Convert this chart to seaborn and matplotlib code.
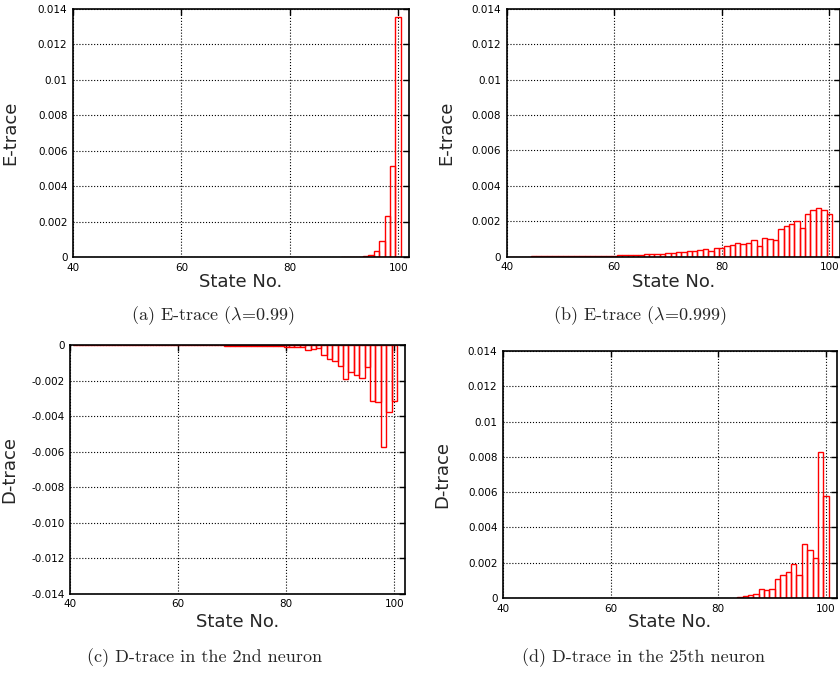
import matplotlib
matplotlib.use('Agg')
import matplotlib.pyplot as plt
import seaborn as sns

# (a) E-trace, lambda = 0.99
states_a = [90, 91, 92, 93, 94, 95, 96, 97, 98, 99, 100]
etrace_a = [0.0, 0.00001, 0.00001, 0.00002, 0.00005, 0.00013, 0.00034,
            0.00092, 0.00233, 0.00512, 0.01353]

# (b) E-trace, lambda = 0.999  (states 41..100)
states_b = list(range(41, 101))
etrace_b = [0.00001, 0.00001, 0.00001, 0.00001, 0.00002, 0.00002, 0.00002, 0.00002, 0.00003, 0.00003,
            0.00003, 0.00003, 0.00004, 0.00004, 0.00004, 0.00005, 0.00005, 0.00005, 0.00006, 0.00006,
            0.00007, 0.00008, 0.00009, 0.00010, 0.00011, 0.00013, 0.00013, 0.00015, 0.00017, 0.00021,
            0.00021, 0.00024, 0.00026, 0.00032, 0.00030, 0.00037, 0.00041, 0.00034, 0.00050, 0.00052,
            0.00062, 0.00067, 0.00077, 0.00073, 0.00075, 0.00097, 0.00060, 0.00108, 0.00099, 0.00093,
            0.00159, 0.00174, 0.00187, 0.00204, 0.00164, 0.00239, 0.00262, 0.00277, 0.00265, 0.00239]

# (c) D-trace in the 2nd neuron  (states 41..100)
states_c = list(range(41, 101))
dtrace_c = [-0.00001, -0.00001, -0.00001, -0.00001, -0.00001, -0.00001, -0.00001, -0.00001, -0.00001, -0.00001,
            -0.00001, -0.00001, -0.00001, -0.00001, -0.00001, -0.00001, -0.00001, -0.00001, -0.00001, -0.00001,
            -0.00001, -0.00001, -0.00001, -0.00001, -0.00001, -0.00001, -0.00001, -0.00001, -0.00002, -0.00002,
            -0.00002, -0.00002, -0.00002, -0.00002, -0.00003, -0.00003, -0.00003, -0.00004, -0.00004, -0.00009,
            -0.00007, -0.00007, -0.00011, -0.00024, -0.00022, -0.00015, -0.00056, -0.00077, -0.00086, -0.00116,
            -0.00189, -0.00150, -0.00167, -0.00186, -0.00124, -0.00315, -0.00319, -0.00574, -0.00377, -0.00315]

# (d) D-trace in the 25th neuron
states_d = [84, 85, 86, 87, 88, 89, 90, 91, 92, 93, 94, 95, 96, 97, 98, 99, 100]
dtrace_d = [0.00006, 0.00011, 0.00017, 0.00023, 0.00049, 0.00045, 0.00053, 0.00106, 0.00132,
            0.00149, 0.00194, 0.00128, 0.00308, 0.00272, 0.00225, 0.00826, 0.00577]

x_ticks = [40, 60, 80, 100]
pos_ticks = [0, 0.002, 0.004, 0.006, 0.008, 0.01, 0.012, 0.014]
pos_labels = ['0', '0.002', '0.004', '0.006', '0.008', '0.01', '0.012', '0.014']
neg_ticks = [0, -0.002, -0.004, -0.006, -0.008, -0.010, -0.012, -0.014]
neg_labels = ['0', '-0.002', '-0.004', '-0.006', '-0.008', '-0.010', '-0.012', '-0.014']

sns.set_style('white')
plt.rcParams['font.family'] = ['DejaVu Sans']
plt.rcParams['mathtext.fontset'] = 'cm'

fig = plt.figure(figsize=(8.4, 6.74), dpi=100)

panels = [
    # rect, states, values, ylabel, ticks, labels, ylim, xlabel y, ylabel x
    ([0.0869, 0.6187, 0.400, 0.368], states_a, etrace_a, 'E-trace', pos_ticks, pos_labels, (0, 0.014), -0.065, -0.160),
    ([0.6030, 0.6191, 0.397, 0.368], states_b, etrace_b, 'E-trace', pos_ticks, pos_labels, (0, 0.014), -0.065, -0.155),
    ([0.0837, 0.1191, 0.3985, 0.3686], states_c, dtrace_c, 'D-trace', neg_ticks, neg_labels, (-0.014, 0), -0.078, -0.155),
    ([0.5988, 0.1128, 0.3973, 0.3665], states_d, dtrace_d, 'D-trace', pos_ticks, pos_labels, (0, 0.014), -0.061, -0.155),
]

for rect, st, vals, ylab, yt, ytl, ylim, xly, yly in panels:
    ax = fig.add_axes(rect)
    sns.barplot(x=st, y=vals, native_scale=True, width=1, fill=False, color='red',
                saturation=1, linewidth=1, errorbar=None, ax=ax)
    ax.set_xlim(40, 102)
    ax.set_ylim(*ylim)
    ax.set_xticks(x_ticks)
    ax.set_xticklabels([str(t) for t in x_ticks])
    ax.set_yticks(yt)
    ax.set_yticklabels(ytl)
    ax.grid(True, linestyle=':', color='black', linewidth=0.8)
    ax.set_axisbelow(True)
    ax.tick_params(direction='in', top=True, right=True, length=4, width=1,
                   labelsize=7.5, pad=4, colors='black')
    for sp in ax.spines.values():
        sp.set_color('black')
        sp.set_linewidth(1.2)
    ax.set_xlabel('State No.', fontsize=13)
    ax.set_ylabel(ylab, fontsize=13)
    ax.xaxis.set_label_coords(0.5, xly)
    ax.yaxis.set_label_coords(yly, 0.5)

cap = dict(ha='center', va='baseline', fontsize=13, family=['cmr10', 'DejaVu Serif'])
fig.text(213 / 840, 1 - 320 / 674, r'(a) E-trace ($\lambda$=0.99)', **cap)
fig.text(640 / 840, 1 - 320 / 674, r'(b) E-trace ($\lambda$=0.999)', **cap)
fig.text(205 / 840, 1 - 662 / 674, '(c) D-trace in the 2nd neuron', **cap)
fig.text(644 / 840, 1 - 662 / 674, '(d) D-trace in the 25th neuron', **cap)

fig.savefig('out.png', dpi=100)
